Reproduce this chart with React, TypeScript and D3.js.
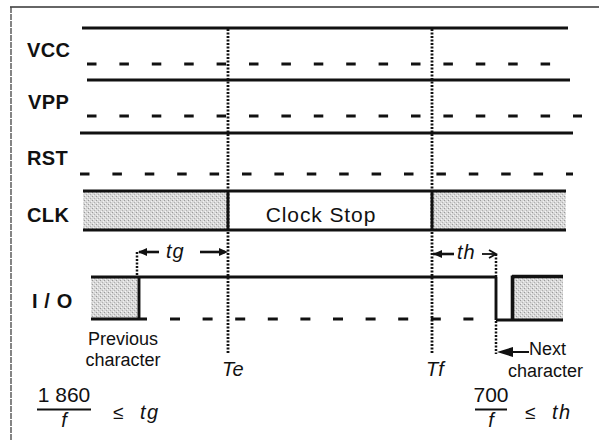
import React from "react";
import * as d3 from "d3";

// Signal rows (labels) and their levels, times in arbitrary time units
const rowNames = ["VCC", "VPP", "RST", "CLK", "I / O"];
const railHighStart = [2, 7, 0];
const railHighEnd = [488, 490, 493];
const railLowStart = [7, 7, 0];
const railLowEnd = [471, 502, 493];
const clkSpan = [3, 486];
const eventLabels = ["Te", "Tf"];
const eventTimes = [148, 352];
const prevCharSpan = [11, 59];
const ioHighSpan = [11, 416];
const ioLowDashSpan = [90, 407];
const nextCharTimes = [416, 432, 483];
const formulaNumerators = ["1 860", "700"];
const formulaDenominator = "f";
const formulaSymbols = ["tg", "th"];

const W = 599;
const H = 440;

export default function App() {
  const x = d3.scaleLinear().domain([0, 500]).range([80, 580]);
  const railHighY = [28, 80, 133];
  const railLowY = [64, 116, 174];
  const labelY = [57, 109, 165, 222, 308];
  const labelX = [27, 28, 27, 27, 32];
  const clkTop = 191;
  const clkBot = 230;
  const ioHi = 277;
  const ioLo = 319;
  const ink = "#111";
  const sw = 2.9;

  const xTe = x(eventTimes[0]);
  const xTf = x(eventTimes[1]);
  const xPrev = x(prevCharSpan[1]);
  const xFall = x(nextCharTimes[0]);
  const xRise = x(nextCharTimes[1]);
  const xNextEnd = x(nextCharTimes[2]);
  const arrowY1 = 252;
  const arrowY2 = 254;

  const head = (tip: number, y: number, dir: number, len = 9, hw = 4) =>
    `M${tip},${y}L${tip + dir * len},${y - hw}L${tip + dir * len},${y + hw}Z`;

  return (
    <svg width={W} height={H} style={{ position: "absolute", left: 0, top: 0, background: "#fff" }}
      fontFamily="'Liberation Sans', Arial, sans-serif">
      <defs>
        <pattern id="stip" width="4" height="4" patternUnits="userSpaceOnUse">
          <rect width="4" height="4" fill="#d8d8d8" />
          <rect x="0" y="0" width="1" height="1" fill="#9a9a9a" />
          <rect x="2" y="2" width="1" height="1" fill="#b0b0b0" />
          <rect x="3" y="1" width="1" height="1" fill="#f2f2f2" />
          <rect x="1" y="3" width="1" height="1" fill="#f6f6f6" />
        </pattern>
      </defs>
      {/* frame */}
      <line x1={10} y1={7} x2={599} y2={7} stroke="#333" strokeWidth={1.5} />
      <line x1={11} y1={7} x2={11} y2={440} stroke="#444" strokeWidth={1.3} strokeDasharray="6 1" />

      {/* row labels */}
      {rowNames.map((n, i) => (
        <text key={n} x={labelX[i]} y={labelY[i]} fontSize={20} fontWeight="bold" letterSpacing={i === 4 ? 0.6 : 0.4} fill={ink}>
          {n}
        </text>
      ))}

      {/* rails */}
      {railHighY.map((y, i) => (
        <line key={"h" + i} x1={x(railHighStart[i])} x2={x(railHighEnd[i])} y1={y} y2={y} stroke={ink} strokeWidth={sw} />
      ))}
      {railLowY.map((y, i) => (
        <line key={"l" + i} x1={x(railLowStart[i])} x2={x(railLowEnd[i])} y1={y} y2={y} stroke={ink} strokeWidth={sw}
          strokeDasharray="9.5 22.9" />
      ))}

      {/* CLK */}
      <rect x={x(clkSpan[0])} y={clkTop} width={xTe - x(clkSpan[0])} height={clkBot - clkTop} fill="url(#stip)" />
      <rect x={xTf} y={clkTop} width={x(clkSpan[1]) - xTf} height={clkBot - clkTop} fill="url(#stip)" />
      <line x1={x(clkSpan[0])} x2={x(clkSpan[1])} y1={clkTop} y2={clkTop} stroke={ink} strokeWidth={sw} />
      <line x1={x(clkSpan[0])} x2={x(clkSpan[1])} y1={clkBot} y2={clkBot} stroke={ink} strokeWidth={sw} />
      <line x1={xTe} x2={xTe} y1={clkTop} y2={clkBot} stroke={ink} strokeWidth={sw} />
      <line x1={xTf} x2={xTf} y1={clkTop} y2={clkBot} stroke={ink} strokeWidth={sw} />
      <text x={321} y={222} fontSize={21} textAnchor="middle" letterSpacing={0.9} fill={ink}>Clock Stop</text>

      {/* I/O */}
      <rect x={x(prevCharSpan[0])} y={ioHi} width={xPrev - x(prevCharSpan[0])} height={ioLo - ioHi} fill="url(#stip)" />
      <line x1={x(ioHighSpan[0])} x2={x(ioHighSpan[1])} y1={ioHi} y2={ioHi} stroke={ink} strokeWidth={sw} />
      <line x1={xPrev} x2={xPrev} y1={ioHi} y2={ioLo} stroke={ink} strokeWidth={sw} />
      <line x1={x(prevCharSpan[0])} x2={xPrev + 8} y1={ioLo} y2={ioLo} stroke={ink} strokeWidth={sw} />
      <line x1={x(ioLowDashSpan[0])} x2={x(ioLowDashSpan[1])} y1={ioLo} y2={ioLo} stroke={ink} strokeWidth={sw}
        strokeDasharray="10 22.6" />
      <line x1={xFall} x2={xFall} y1={ioHi} y2={ioLo + 1} stroke={ink} strokeWidth={sw} />
      <rect x={xRise} y={ioHi} width={xNextEnd - xRise} height={ioLo - ioHi + 1} fill="url(#stip)" />
      <line x1={xRise + 0.5} x2={xRise + 0.5} y1={ioHi - 1.5} y2={ioLo + 1} stroke={ink} strokeWidth={3.6} />
      <line x1={xRise} x2={xNextEnd} y1={ioHi - 0.5} y2={ioHi - 0.5} stroke={ink} strokeWidth={3.4} />
      <line x1={xFall} x2={xNextEnd} y1={ioLo + 1} y2={ioLo + 1} stroke={ink} strokeWidth={sw} />

      {/* dotted event lines */}
      {eventTimes.map((t, i) => (
        <g key={eventLabels[i]}>
          <line x1={x(t)} x2={x(t)} y1={29} y2={354} stroke={ink} strokeWidth={2.8} strokeDasharray="2 1.5" />
          <text x={x(t) - 6} y={376} fontSize={20} fontStyle="italic" fill={ink}>{eventLabels[i]}</text>
        </g>
      ))}
      <line x1={xPrev - 2} x2={xPrev - 2} y1={arrowY1} y2={ioHi} stroke={ink} strokeWidth={2.5} strokeDasharray="2 1.5" />
      <line x1={xFall} x2={xFall} y1={arrowY2} y2={ioHi} stroke={ink} strokeWidth={2.5} strokeDasharray="2 1.5" />
      <line x1={xFall} x2={xFall} y1={ioLo + 2} y2={354} stroke={ink} strokeWidth={2.5} strokeDasharray="2 1.5" />

      {/* tg arrows */}
      <line x1={xPrev} x2={xPrev + 20} y1={arrowY1} y2={arrowY1} stroke={ink} strokeWidth={2.6} />
      <path d={head(xPrev - 1, arrowY1, 1)} fill={ink} />
      <text x={166} y={258} fontSize={20} fontStyle="italic" letterSpacing={1} fill={ink}>tg</text>
      <line x1={200} x2={xTe - 3} y1={arrowY1} y2={arrowY1} stroke={ink} strokeWidth={2.6} />
      <path d={head(xTe, arrowY1, -1)} fill={ink} />

      {/* th arrows */}
      <line x1={xTf + 1} x2={xTf + 22} y1={arrowY2} y2={arrowY2} stroke={ink} strokeWidth={2.6} />
      <path d={head(xTf + 1, arrowY2, 1)} fill={ink} />
      <text x={457} y={259} fontSize={20} fontStyle="italic" letterSpacing={1} fill={ink}>th</text>
      <line x1={482} x2={xFall - 2} y1={arrowY2} y2={arrowY2} stroke={ink} strokeWidth={1.8} />
      <path d={`M${xFall - 7},${arrowY2 - 4}L${xFall},${arrowY2}L${xFall - 7},${arrowY2 + 4}`} fill="none" stroke={ink} strokeWidth={1.8} />

      {/* previous / next character */}
      <text x={xPrev - 16} y={345} fontSize={18} textAnchor="middle" fill={ink}>Previous</text>
      <text x={xPrev - 16} y={366} fontSize={18} textAnchor="middle" fill={ink}>character</text>
      <line x1={xFall + 12} x2={xFall + 33} y1={352} y2={352} stroke={ink} strokeWidth={2} />
      <path d={head(xFall + 1, 352, 1, 16, 5)} fill={ink} />
      <text x={529} y={355} fontSize={18} fill={ink}>Next</text>
      <text x={508} y={377} fontSize={18} fill={ink}>character</text>

      {/* formulas */}
      {formulaNumerators.map((num, i) => {
        const cx = i === 0 ? 64 : 491;
        const half = i === 0 ? 27 : 16;
        const symX = i === 0 ? 113 : 525;
        return (
          <g key={num}>
            <text x={cx} y={402} fontSize={21} textAnchor="middle" fill={ink}>{num}</text>
            <line x1={cx - half} x2={cx + half} y1={409.5} y2={409.5} stroke={ink} strokeWidth={2} />
            <text x={cx} y={427} fontSize={20} fontStyle="italic" textAnchor="middle" fill={ink}>{formulaDenominator}</text>
            <text x={symX} y={419} fontSize={19} fill={ink}>≤</text>
            <text x={symX + 27} y={419} fontSize={20} fontStyle="italic" letterSpacing={1.5} fill={ink}>{formulaSymbols[i]}</text>
          </g>
        );
      })}
    </svg>
  );
}
